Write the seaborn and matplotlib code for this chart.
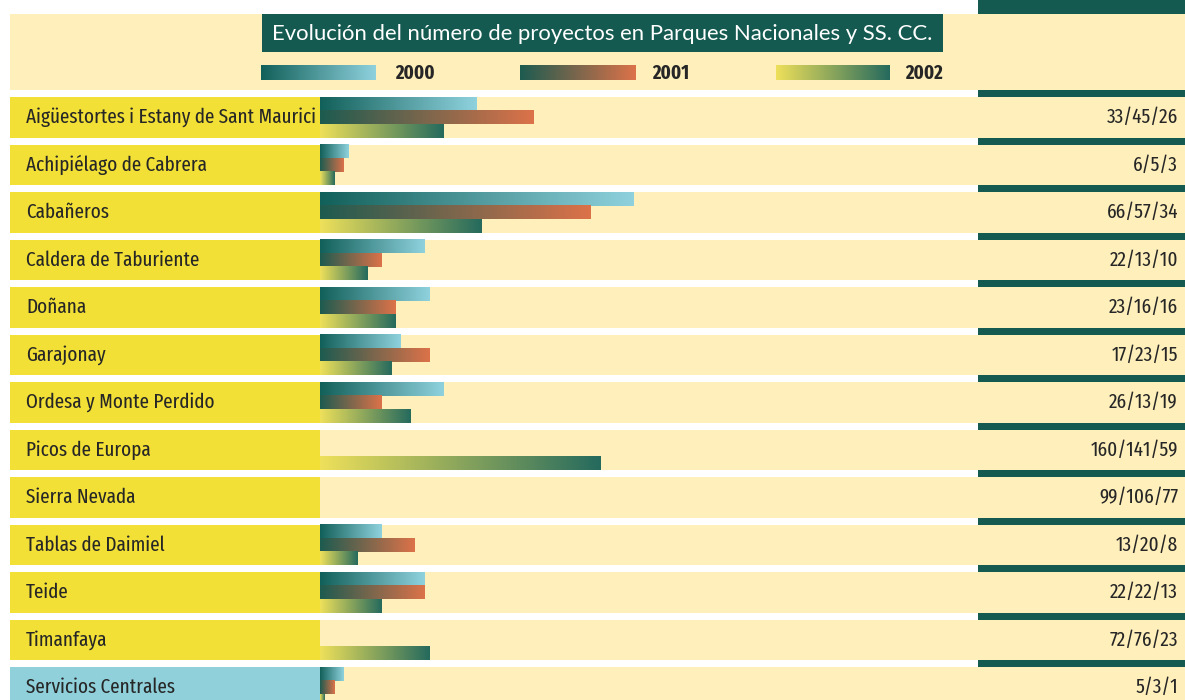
import numpy as np
import pandas as pd
import matplotlib
matplotlib.use("Agg")
import matplotlib.pyplot as plt
from matplotlib.colors import LinearSegmentedColormap
from matplotlib.patches import Rectangle
from matplotlib import font_manager
import seaborn as sns

# ---- datos ----
parques = [
    "Aigüestortes i Estany de Sant Maurici",
    "Achipiélago de Cabrera",
    "Cabañeros",
    "Caldera de Taburiente",
    "Doñana",
    "Garajonay",
    "Ordesa y Monte Perdido",
    "Picos de Europa",
    "Sierra Nevada",
    "Tablas de Daimiel",
    "Teide",
    "Timanfaya",
    "Servicios Centrales",
]
anios = ["2000", "2001", "2002"]
proy_2000 = [33, 6, 66, 22, 23, 17, 26, 160, 99, 13, 22, 72, 5]
proy_2001 = [45, 5, 57, 13, 16, 23, 13, 141, 106, 20, 22, 76, 3]
proy_2002 = [26, 3, 34, 10, 16, 15, 19, 59, 77, 8, 13, 23, 1]
titulo = "Evolución del número de proyectos en Parques Nacionales y SS. CC."

# barras más largas que este límite no se dibujan en la zona de barras
LIMITE_BARRA = 70

# ---- colores ----
CREMA = "#FEEFBB"
AMARILLO = "#F2E036"
AZUL = "#8FD0DB"
VERDE = "#145A50"
TEXTO = "#262626"
degradados = {
    "2000": ("#12605A", "#8FD2DE"),
    "2001": ("#1D5B50", "#DC7249"),
    "2002": ("#EEE05A", "#256A5E"),
}
cmaps = {a: LinearSegmentedColormap.from_list(a, c) for a, c in degradados.items()}


def fuente(*nombres):
    instaladas = {f.name for f in font_manager.fontManager.ttflist}
    for n in nombres:
        if n in instaladas:
            return n
    return "DejaVu Sans"


sns.set_theme(style="white")
F_ESTRECHA = fuente("Fira Sans Extra Condensed", "Sofia Sans Extra Condensed",
                    "Roboto Condensed", "DejaVu Sans")
F_TITULO = fuente("Lato", "Open Sans", "DejaVu Sans")

W, H = 1185, 700
fig = plt.figure(figsize=(W / 100, H / 100), dpi=100)
fig.patch.set_facecolor("white")

# capa de fondo en coordenadas de píxel
bg = fig.add_axes([0, 0, 1, 1])
bg.set_xlim(0, W)
bg.set_ylim(H, 0)
bg.axis("off")

X_IZQ, X_BARRAS, X_COL = 10, 320, 978
Y_FILA0, PASO, ALTO = 97, 47.5, 40.7
HUECO = PASO - ALTO

# cabecera
bg.add_patch(Rectangle((X_COL, 0), W - X_COL, 14, color=VERDE, lw=0))
bg.add_patch(Rectangle((X_IZQ, 14), W - X_IZQ, 76, color=CREMA, lw=0))
bg.add_patch(Rectangle((262, 14), 681, 38, color=VERDE, lw=0))
bg.text(272, 33.5, titulo, color="white", va="center", ha="left",
        fontsize=15.9, family=F_TITULO)

# leyenda con degradados
grad = np.linspace(0, 1, 256).reshape(1, -1)
leyenda_x = [(261, 376, 395), (520, 636, 652), (776, 890, 905)]
for anio, (x0, x1, xt) in zip(anios, leyenda_x):
    bg.imshow(grad, extent=(x0, x1, 80, 65), cmap=cmaps[anio], aspect="auto",
              interpolation="bilinear", zorder=3)
    bg.text(xt, 73.5, anio, va="center", ha="left", fontsize=14.5,
            fontweight="bold", color=TEXTO, family=F_ESTRECHA)

# filas
for i, parque in enumerate(parques):
    y = Y_FILA0 + i * PASO
    bg.add_patch(Rectangle((X_COL, y - HUECO), W - X_COL, HUECO, color=VERDE, lw=0))
    panel = AZUL if parque == "Servicios Centrales" else AMARILLO
    bg.add_patch(Rectangle((X_IZQ, y), X_BARRAS - X_IZQ, ALTO, color=panel, lw=0))
    bg.add_patch(Rectangle((X_BARRAS, y), W - X_BARRAS, ALTO, color=CREMA, lw=0))
    bg.text(26, y + ALTO / 2, parque, va="center", ha="left", fontsize=15,
            fontweight="normal", color=TEXTO, family=F_ESTRECHA)
    bg.text(1178, y + ALTO / 2,
            f"{proy_2000[i]}/{proy_2001[i]}/{proy_2002[i]}",
            va="center", ha="right", fontsize=15, fontweight="normal",
            color=TEXTO, family=F_ESTRECHA)
bg.set_xlim(0, W)
bg.set_ylim(H, 0)

# ---- barras ----
centro0 = Y_FILA0 + ALTO / 2
top_px = centro0 - PASO / 2
ax = fig.add_axes([X_BARRAS / W, 0, (W - X_BARRAS) / W, (H - top_px) / H])
ax.patch.set_alpha(0)

df = pd.DataFrame({"parque": parques, "2000": proy_2000,
                   "2001": proy_2001, "2002": proy_2002})
largo = df.melt(id_vars="parque", var_name="anio", value_name="proyectos")
dibujo = largo[largo["proyectos"] <= LIMITE_BARRA]

ancho = ALTO / PASO
sns.barplot(data=dibujo, x="proyectos", y="parque", hue="anio",
            order=parques, hue_order=anios, orient="h", width=ancho, gap=0,
            dodge=True, errorbar=None, legend=False, saturation=1,
            linewidth=0, ax=ax)

PX_POR_UNIDAD = 4.75
xmax = (W - X_BARRAS) / PX_POR_UNIDAD
ymax = (H - centro0) / PASO

# cada barra se pinta con su degradado, de extremo a extremo
for bar in list(ax.patches):
    w = bar.get_width()
    if not np.isfinite(w) or w <= 0:
        bar.set_visible(False)
        continue
    x0, y0, h = bar.get_x(), bar.get_y(), bar.get_height()
    centro = y0 + h / 2
    k = int(round((centro - round(centro)) / (ancho / 3))) + 1
    ax.imshow(grad, extent=(x0, x0 + w, y0 + h, y0), cmap=cmaps[anios[k]],
              aspect="auto", interpolation="bilinear", zorder=3)
    bar.set_visible(False)

ax.set_xlim(0, xmax)
ax.set_ylim(ymax, -0.5)
ax.axis("off")

fig.savefig("out.png", dpi=100, facecolor="white")
